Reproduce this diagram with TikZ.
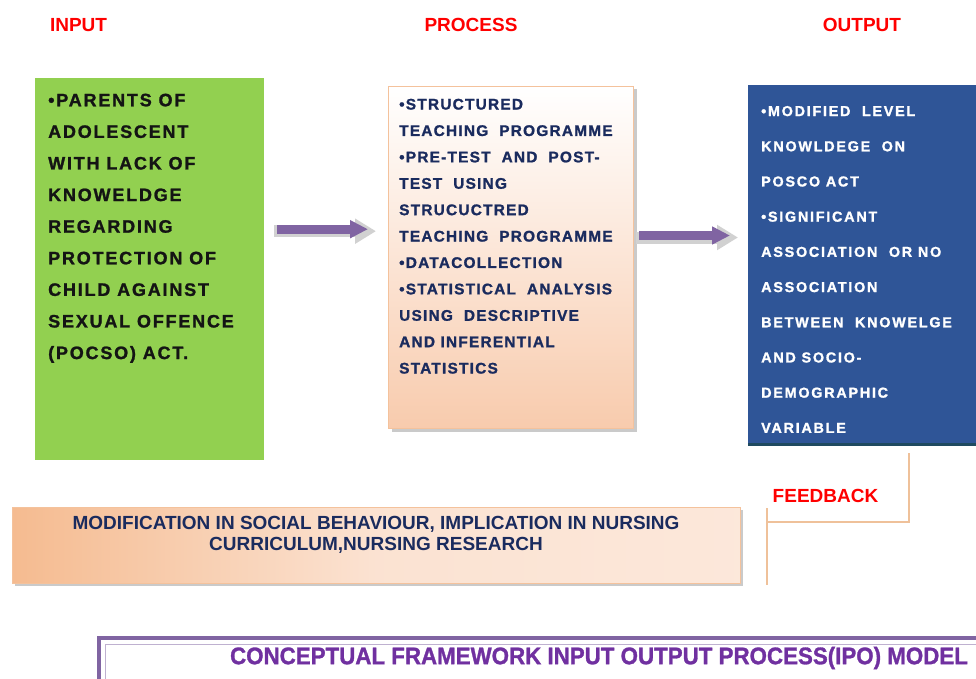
\documentclass[tikz,border=0pt]{standalone}
\usepackage{fontspec}
\setmainfont{Liberation Sans}
\newfontfamily\heavygreen[UprightFont=* Bold, FakeBold=1.3, LetterSpace=10]{Liberation Sans}
\newfontfamily\heavyfont[UprightFont=* Bold, FakeBold=1.3, LetterSpace=8]{Liberation Sans}
\newfontfamily\heavywide[UprightFont=* Bold, FakeBold=1.3, LetterSpace=12]{Liberation Sans}
\newfontfamily\titlefont[UprightFont=* Bold, FakeBold=1.2, FakeStretch=0.93]{Liberation Sans}
\usetikzlibrary{arrows.meta,calc,shadows}
\definecolor{lblred}{HTML}{FF0000}
\definecolor{ingreen}{HTML}{92D050}
\definecolor{navy}{HTML}{1A2B5E}
\definecolor{outblue}{HTML}{2F5597}
\definecolor{outedge}{HTML}{1F4A60}
\definecolor{arrowpurple}{HTML}{8064A2}
\definecolor{titlepurple}{HTML}{7030A0}
\definecolor{peach}{HTML}{F8CBAD}
\definecolor{peachdark}{HTML}{F5BB90}
\definecolor{peachborder}{HTML}{F4C29C}
\definecolor{fbcol}{HTML}{EFC19A}
\tikzset{
  lbl/.style={font=\fontsize{19}{22}\selectfont\bfseries, text=lblred, inner sep=0pt},
  boxshadow/.style={drop shadow={shadow xshift=3pt, shadow yshift=-3pt, fill=black!35, opacity=0.6}},
  blockarrow/.style={draw=arrowpurple, line width=9pt, -{Triangle[length=18pt,width=17pt]}},
  arrowshadow/.style={draw=black!18, line width=12pt, -{Triangle[length=21pt,width=24pt]}},
  fbline/.style={draw=fbcol, line width=2.8pt},
  bodytext/.style={anchor=north west, inner sep=0pt, align=left},
}
\begin{document}
\begin{tikzpicture}[x=1pt,y=-1pt]
\useasboundingbox (0,0) rectangle (976,679);

% headings
\node[lbl] (inlbl) at (78.5,25) {INPUT};
\node[lbl] (proclbl) at (471,25) {PROCESS};
\node[lbl] (outlbl) at (862,25) {OUTPUT};

% input box
\node[fill=ingreen, minimum width=229pt, minimum height=382pt, anchor=north west, inner sep=0pt] (in) at (35,78) {};
\node[bodytext, font=\heavygreen\fontsize{18}{31.6}\selectfont, text=black!92] (intext) at (48,93.5)
 {•PARENTS OF\\ADOLESCENT\\WITH LACK OF\\KNOWELDGE\\REGARDING\\PROTECTION OF\\CHILD AGAINST\\SEXUAL OFFENCE\\(POCSO) ACT.};

% process box
\node[boxshadow, top color=white, bottom color=peach, draw=peachborder, line width=1pt, minimum width=245pt, minimum height=342pt, anchor=north west, inner sep=0pt] (proc) at (388,86) {};
\node[bodytext, font=\heavyfont\fontsize{15.4}{26.4}\selectfont, text=navy] (proctext) at (399,98.6)
 {•STRUCTURED\\TEACHING~ PROGRAMME\\•PRE-TEST~ AND~ POST-\\TEST~ USING\\STRUCUCTRED\\TEACHING~ PROGRAMME\\•DATACOLLECTION\\•STATISTICAL~ ANALYSIS\\USING~ DESCRIPTIVE\\AND INFERENTIAL\\STATISTICS};

% output box
\node[drop shadow={shadow xshift=0pt, shadow yshift=-3pt, fill=outedge, opacity=1}, fill=outblue, minimum width=230pt, minimum height=358pt, anchor=north west, inner sep=0pt] (out) at (748,85) {};
\node[bodytext, font=\heavywide\fontsize{14.4}{35.2}\selectfont, text=white] (outtext) at (761,105.8)
 {•MODIFIED~ LEVEL\\KNOWLDEGE~ ON\\POSCO ACT\\•SIGNIFICANT\\ASSOCIATION~ OR NO\\ASSOCIATION\\BETWEEN~ KNOWELGE\\AND SOCIO-\\DEMOGRAPHIC\\VARIABLE};

% arrows
\coordinate (a1s) at ([xshift=13pt,yshift=40pt]in.east);
\coordinate (a1e) at ($(proc.west |- a1s)+(-20,0)$);
\coordinate (a2s) at ([xshift=5pt,yshift=22pt]proc.east);
\coordinate (a2e) at ($(out.west |- a2s)+(-18,0)$);
\draw[arrowshadow] ([shift={(-3,2)}]a1s) -- ([shift={(8,2)}]a1e);
\draw[blockarrow] (a1s) -- (a1e);
\draw[arrowshadow] ([shift={(-3,2)}]a2s) -- ([shift={(8,2)}]a2e);
\draw[blockarrow] (a2s) -- (a2e);

% feedback
\coordinate (fbA) at (909,453);
\coordinate (fbB) at (909,522);
\coordinate (fbC) at (767,522);
\coordinate (fbD) at (767,508);
\coordinate (fbE) at (767,585);
\draw[fbline, line join=miter] (fbA) -- (fbB) -- (fbC);
\draw[fbline] (fbD) -- (fbE);
\node[lbl] (fblbl) at (825.5,496) {FEEDBACK};

% bottom box
\node[boxshadow, left color=peachdark, right color=peach!45, middle color=peach!55, draw=peachborder, line width=0.8pt, minimum width=728pt, minimum height=76pt, anchor=north west, inner sep=0pt] (mod) at (12,507) {};
\node[inner sep=0pt, align=center, font=\fontsize{19}{21}\selectfont\bfseries, text=navy] (modtext) at (376,534.5)
 {MODIFICATION IN SOCIAL BEHAVIOUR, IMPLICATION IN NURSING\\CURRICULUM,NURSING RESEARCH};

% title box
\draw[draw=arrowpurple, line width=4pt] (99,638) rectangle (1000,700);
\draw[draw=arrowpurple!50, line width=1pt] (105,644) rectangle (1000,700);
\node[inner sep=0pt, font=\titlefont\fontsize{24}{26}\selectfont, text=titlepurple] (title) at (599,658) {CONCEPTUAL FRAMEWORK INPUT OUTPUT PROCESS(IPO) MODEL};
\end{tikzpicture}
\end{document}
